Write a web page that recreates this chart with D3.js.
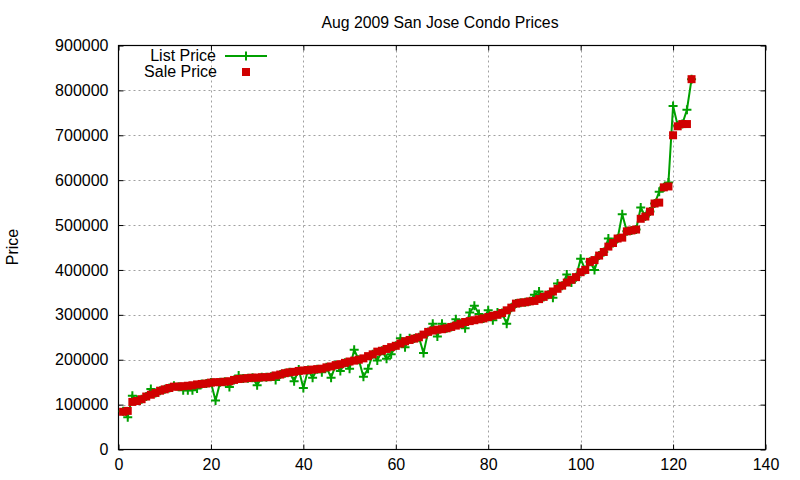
<!DOCTYPE html>
<html><head><meta charset="utf-8">
<script src="https://cdn.jsdelivr.net/npm/d3@7"></script>
<style>body{margin:0;background:#fff}svg{display:block}text{font-family:"Liberation Sans",Arial,sans-serif}</style>
</head><body><svg id="c" width="800" height="480"></svg>
<script>
const title = "Aug 2009 San Jose Condo Prices";
const yLabel = "Price";
const seriesNames = ["List Price", "Sale Price"];
const xTicks = [0,20,40,60,80,100,120,140];
const yTicks = [0,100000,200000,300000,400000,500000,600000,700000,800000,900000];
const salePrice = [84000,86000,106000,108000,112000,118000,122000,126000,131000,134000,
137000,140000,140000,141000,142000,143000,145000,146000,147000,149000,
150000,150000,151000,152000,155000,157000,158000,159000,160000,160000,
161000,161000,162000,165000,167000,170000,172000,173000,175000,176000,
177000,178000,179000,180000,183000,185000,188000,190000,193000,196000,
198000,200000,203000,208000,212000,218000,220000,224000,228000,231000,
236000,241000,244000,247000,250000,256000,262000,265000,267000,268000,
270000,273000,276000,280000,284000,286000,288000,290000,292000,295000,
298000,300000,304000,310000,316000,325000,327000,328000,330000,331000,
335000,340000,345000,352000,358000,365000,372000,378000,384000,395000,
400000,418000,422000,432000,440000,452000,460000,470000,472000,486000,
488000,490000,514000,519000,530000,548000,550000,584000,586000,700000,
720000,725000,725000,825000];
const listPrice = [85000,72000,120000,110000,112000,118000,135000,126000,131000,134000,
137000,142000,140000,132000,132000,132000,136000,146000,147000,149000,
109000,150000,151000,139000,155000,165000,158000,159000,160000,143000,
161000,161000,162000,155000,167000,170000,172000,152000,178000,137000,
177000,160000,179000,172000,183000,160000,188000,175000,193000,180000,
222000,200000,162000,180000,212000,198000,220000,202000,212000,231000,
248000,228000,248000,247000,250000,215000,262000,280000,252000,280000,
270000,273000,290000,280000,270000,305000,320000,302000,292000,310000,
288000,305000,304000,280000,316000,325000,327000,328000,330000,345000,
352000,340000,345000,338000,370000,365000,390000,372000,384000,425000,
400000,418000,400000,432000,440000,470000,460000,470000,524000,486000,
488000,490000,539000,519000,530000,548000,574000,584000,595000,765000,
722000,725000,757000,825000];

const green = "#00a000", red = "#d00000";
const svg = d3.select("#c");
const L = 118.5, R = 765.5, T = 45.5, B = 449.5;
const x = d3.scaleLinear().domain([0,140]).range([L,R]);
const y = d3.scaleLinear().domain([0,900000]).range([B,T]);

// grid
const g = svg.append("g");
g.selectAll("line.gx").data(xTicks.slice(1,-1)).join("line")
  .attr("x1",d=>Math.round(x(d))+0.5).attr("x2",d=>Math.round(x(d))+0.5).attr("y1",T).attr("y2",B)
  .attr("stroke","#a0a0a0").attr("stroke-dasharray","2,3");
g.selectAll("line.gy").data(yTicks.slice(1,-1)).join("line")
  .attr("y1",d=>Math.round(y(d))+0.5).attr("y2",d=>Math.round(y(d))+0.5).attr("x1",L).attr("x2",R)
  .attr("stroke","#a0a0a0").attr("stroke-dasharray","2,3");

// axes
const ax = svg.append("g").attr("font-size",16);
const xb = ax.append("g").attr("transform",`translate(0,${B})`).call(d3.axisBottom(x).tickValues(xTicks).tickSizeInner(-5).tickSizeOuter(0).tickPadding(9));
const xt = ax.append("g").attr("transform",`translate(0,${T})`).call(d3.axisTop(x).tickValues(xTicks).tickSizeInner(-5).tickSizeOuter(0).tickFormat(""));
const yl = ax.append("g").attr("transform",`translate(${L},0)`).call(d3.axisLeft(y).tickValues(yTicks).tickSizeInner(-5).tickSizeOuter(0).tickPadding(10).tickFormat(d3.format("d")));
const yr = ax.append("g").attr("transform",`translate(${R},0)`).call(d3.axisRight(y).tickValues(yTicks).tickSizeInner(-5).tickSizeOuter(0).tickFormat(""));
ax.selectAll(".domain").remove();
ax.selectAll("text").attr("fill","#000").attr("font-size",16).attr("font-family","Liberation Sans, Arial, sans-serif");
ax.selectAll(".tick line").attr("stroke","#000");
svg.append("rect").attr("x",L).attr("y",T).attr("width",R-L).attr("height",B-T)
  .attr("fill","none").attr("stroke","#000").attr("stroke-width",1.2);

// list line
const idx = d3.range(1, listPrice.length+1);
const line = d3.line().x((d,i)=>x(idx[i])).y(d=>y(d));
svg.append("path").attr("d",line(listPrice)).attr("fill","none").attr("stroke",green).attr("stroke-width",2);
const cs = 4.5;
svg.append("g").selectAll("path").data(listPrice).join("path")
  .attr("d",(d,i)=>`M${x(idx[i])-cs},${y(d)}h${2*cs}M${x(idx[i])},${y(d)-cs}v${2*cs}`)
  .attr("stroke",green).attr("stroke-width",2);

// sale squares
const sq = 8;
svg.append("g").selectAll("rect").data(salePrice).join("rect")
  .attr("x",(d,i)=>x(idx[i])-sq/2).attr("y",d=>y(d)-sq/2).attr("width",sq).attr("height",sq).attr("fill",red);

// title & label
svg.append("text").attr("x",440).attr("y",28).attr("text-anchor","middle").attr("font-size",15.8).text(title);
svg.append("text").attr("transform","translate(18,247) rotate(-90)").attr("text-anchor","middle").attr("font-size",16).text(yLabel);

// legend
const lg = svg.append("g").attr("font-size",16);
lg.append("text").attr("x",216).attr("y",61).attr("text-anchor","end").text(seriesNames[0]);
lg.append("line").attr("x1",225).attr("x2",267).attr("y1",56).attr("y2",56).attr("stroke",green).attr("stroke-width",2);
lg.append("path").attr("d",`M${246-cs},56h${2*cs}M246,${56-cs}v${2*cs}`).attr("stroke",green).attr("stroke-width",2);
lg.append("text").attr("x",217).attr("y",77).attr("text-anchor","end").text(seriesNames[1]);
lg.append("rect").attr("x",246-sq/2).attr("y",72-sq/2).attr("width",sq).attr("height",sq).attr("fill",red);
</script></body></html>
